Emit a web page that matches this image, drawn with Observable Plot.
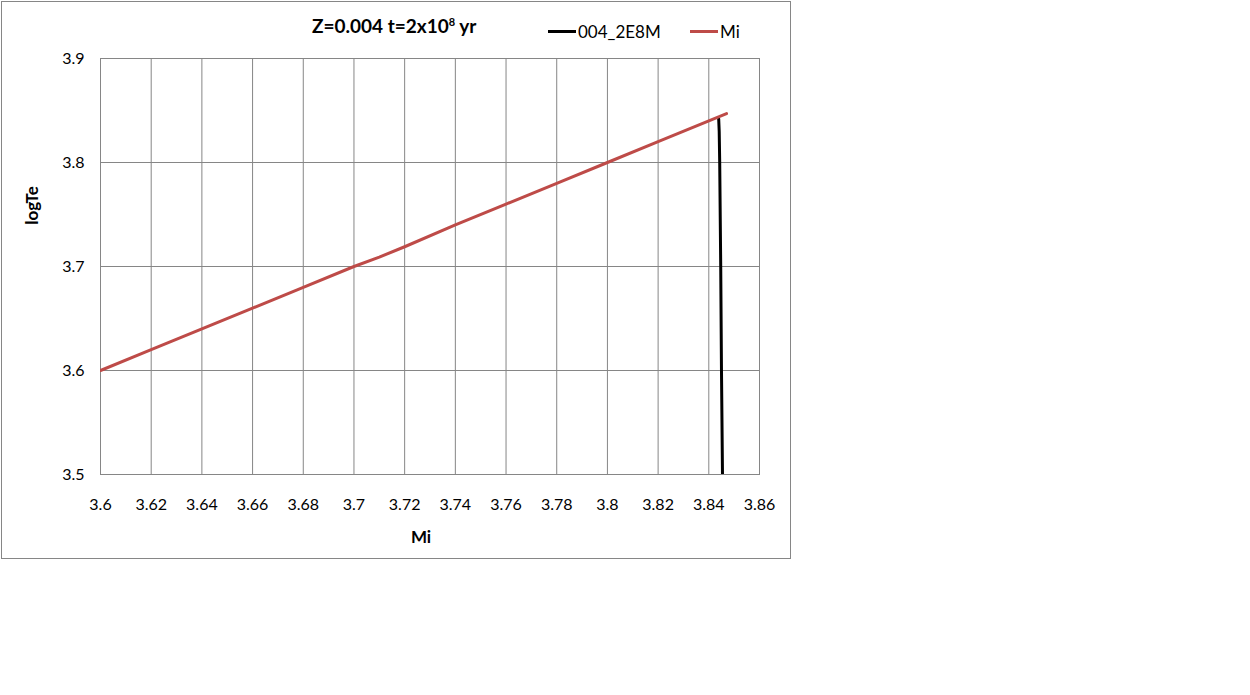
<!DOCTYPE html>
<html>
<head>
<meta charset="utf-8">
<script src="https://cdn.jsdelivr.net/npm/d3@7"></script>
<script src="https://cdn.jsdelivr.net/npm/@observablehq/plot@0.6"></script>
<style>
  html, body { margin: 0; padding: 0; background: #fff; }
  body { width: 1250px; height: 695px; position: relative; font-family: Lato, "Liberation Sans", sans-serif; }
  #chart { position: absolute; left: 1px; top: 1px; width: 788px; height: 556px; border: 1px solid #868686; background: #fff; }
  #header { position: relative; height: 44px; }
  #title { position: absolute; left: 310px; top: 12px; font-weight: bold; font-size: 19px; color: #000; white-space: nowrap; }
  #title sup { font-size: 11px; vertical-align: 7px; }
  .leg { position: absolute; top: 19px; font-size: 17px; color: #000; display: flex; align-items: center; white-space: nowrap; }
  .leg .sw { display: inline-block; width: 28px; height: 3px; margin-right: 2px; }
</style>
</head>
<body>
<div id="chart">
  <div id="header">
    <div id="title">Z=0.004 t=2x10<sup>8</sup> yr</div>
    <div class="leg" style="left:546px;"><span class="sw" style="background:#000"></span><span id="l1"></span></div>
    <div class="leg" style="left:688px;"><span class="sw" style="background:#be4b48"></span><span id="l2"></span></div>
  </div>
  <div id="plot"></div>
</div>
<script>
// Series names
const seriesNames = ["004_2E8M", "Mi"];
// Series "004_2E8M" (black): Mi vs logTe
const blackMi    = [3.8439, 3.8441, 3.8443, 3.8447, 3.8450, 3.8454];
const blackLogTe = [3.842,  3.83,   3.80,   3.70,   3.60,   3.50];
// Series "Mi" (red): Mi vs logTe
const redMi    = [3.600, 3.620, 3.640, 3.660, 3.680, 3.700, 3.710, 3.720, 3.740, 3.760, 3.780, 3.800, 3.820, 3.840, 3.847];
const redLogTe = [3.600, 3.620, 3.640, 3.660, 3.680, 3.700, 3.709, 3.719, 3.740, 3.760, 3.780, 3.800, 3.820, 3.840, 3.847];
// Axis ticks
const xTicks = [3.6, 3.62, 3.64, 3.66, 3.68, 3.7, 3.72, 3.74, 3.76, 3.78, 3.8, 3.82, 3.84, 3.86];
const yTicks = [3.5, 3.6, 3.7, 3.8, 3.9];
const xLabel = "Mi";
const yLabel = "logTe";

document.getElementById("l1").textContent = seriesNames[0];
document.getElementById("l2").textContent = seriesNames[1];

const black = blackMi.map((m, i) => ({x: m, y: blackLogTe[i]}));
const red = redMi.map((m, i) => ({x: m, y: redLogTe[i]}));
const fmt = d => String(+d.toFixed(2));

const plot = Plot.plot({
  width: 788,
  height: 512,
  marginTop: 12,
  marginLeft: 98,
  marginRight: 31,
  marginBottom: 84,
  style: {fontFamily: "Lato, 'Liberation Sans', sans-serif", fontSize: "16px", color: "#000", background: "#fff"},
  x: {domain: [3.6, 3.86], ticks: xTicks, tickFormat: fmt, tickSize: 0, tickPadding: 24, label: null},
  y: {domain: [3.5, 3.9], ticks: yTicks, tickFormat: fmt, tickSize: 0, tickPadding: 16, label: null},
  marks: [
    Plot.gridX(xTicks, {stroke: "#868686", strokeOpacity: 1, strokeWidth: 1}),
    Plot.gridY(yTicks, {stroke: "#868686", strokeOpacity: 1, strokeWidth: 1}),
    Plot.frame({stroke: "#868686"}),
    Plot.axisX({ticks: xTicks, tickFormat: fmt, tickSize: 0, tickPadding: 24, fontSize: 16, label: null}),
    Plot.axisY({ticks: yTicks, tickFormat: fmt, tickSize: 0, tickPadding: 16, fontSize: 16, label: null}),
    Plot.line(black, {x: "x", y: "y", stroke: "#000", strokeWidth: 3, clip: true}),
    Plot.line(red, {x: "x", y: "y", stroke: "#be4b48", strokeWidth: 3, clip: true}),
    Plot.text([yLabel], {frameAnchor: "left", textAnchor: "middle", lineAnchor: "middle", dx: -68, dy: -61, rotate: -90, fontWeight: "bold", fontSize: 17}),
    Plot.text([xLabel], {frameAnchor: "bottom", textAnchor: "middle", lineAnchor: "middle", dx: -9, dy: 63, fontWeight: "bold", fontSize: 17})
  ]
});
document.getElementById("plot").appendChild(plot);
</script>
</body>
</html>
